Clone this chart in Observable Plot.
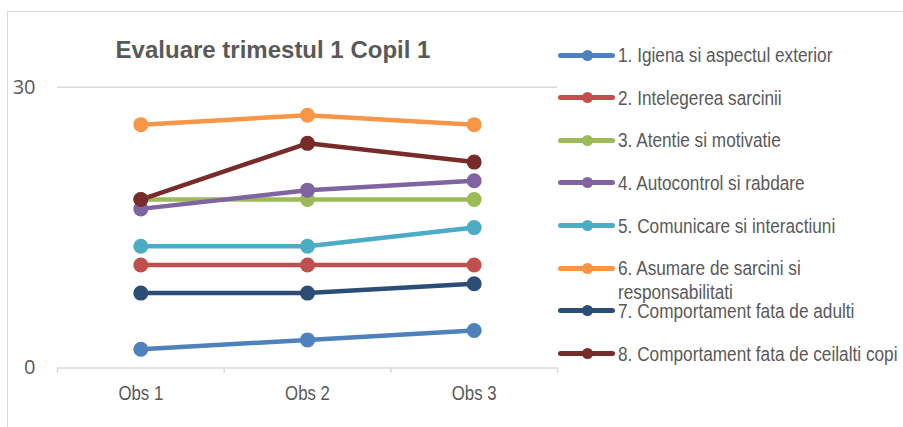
<!DOCTYPE html>
<html><head><meta charset="utf-8">
<script src="https://cdn.jsdelivr.net/npm/d3@7"></script>
<script src="https://cdn.jsdelivr.net/npm/@observablehq/plot@0.6"></script>
<style>
body{margin:0;width:903px;height:427px;overflow:hidden;background:#fff;position:relative;font-family:"Liberation Sans",Arial,sans-serif}
#frame{position:absolute;left:7px;top:11px;width:1000px;height:500px;border:1.5px solid #d9d9d9;box-sizing:border-box}
#title{position:absolute;left:0;width:546px;top:35px;text-align:center;font-weight:bold;font-size:24px;line-height:30px;color:#595959}
#chart{position:absolute;left:0;top:0}
#legend{position:absolute;left:558px;top:0;width:345px;height:427px}
.item{position:absolute;left:0;width:345px}
.sw{position:absolute;left:0;top:9.5px;width:57px;height:5px;border-radius:2.5px}
.sw i{position:absolute;left:24px;top:-3px;width:11px;height:11px;border-radius:50%}
.lab{position:absolute;left:60px;top:0;font-family:"Liberation Sans",Arial,sans-serif;font-size:20.5px;line-height:23.4px;color:#595959;white-space:nowrap;transform:scaleX(0.84);transform-origin:0 0}
</style></head>
<body>
<div id="frame"></div>
<div id="chart"></div>
<div id="title">Evaluare trimestul 1 Copil 1</div>
<div id="legend"></div>
<script>
const observations = ["Obs 1", "Obs 2", "Obs 3"];
const seriesNames = [
  "1. Igiena si aspectul exterior",
  "2. Intelegerea sarcinii",
  "3. Atentie si motivatie",
  "4. Autocontrol si rabdare",
  "5. Comunicare si interactiuni",
  "6. Asumare de sarcini si responsabilitati",
  "7. Comportament fata de adulti",
  "8. Comportament fata de ceilalti copi"
];
const seriesColors = ["#4F81BD", "#C0504D", "#9BBB59", "#8064A2", "#4BACC6", "#F79646", "#2C4D75", "#772C2A"];
const s1 = [2, 3, 4];
const s2 = [11, 11, 11];
const s3 = [18, 18, 18];
const s4 = [17, 19, 20];
const s5 = [13, 13, 15];
const s6 = [26, 27, 26];
const s7 = [8, 8, 9];
const s8 = [18, 24, 22];
const yTicks = [0, 30];

const allSeries = [s1, s2, s3, s4, s5, s6, s7, s8];
const rows = [];
allSeries.forEach((vals, k) => vals.forEach((v, i) => rows.push({series: seriesNames[k], i, obs: observations[i], value: v})));
const boundaries = d3.range(observations.length + 1).map(j => j - 0.5);

const chart = Plot.plot({
  width: 903, height: 427,
  marginLeft: 57, marginRight: 346, marginTop: 86.7, marginBottom: 59.5,
  style: {background: "transparent", overflow: "visible"},
  x: {type: "linear", domain: [-0.5, observations.length - 0.5], label: null},
  y: {domain: [0, 30], label: null},
  color: {domain: seriesNames, range: seriesColors},
  marks: [
    Plot.gridY([30], {stroke: "#d9d9d9", strokeOpacity: 1, strokeWidth: 1.5}),
    Plot.ruleY([0], {stroke: "#d9d9d9", strokeWidth: 1.5}),
    Plot.axisX(boundaries, {tickSize: 5.5, tickFormat: () => "", stroke: "#d9d9d9", strokeWidth: 1.5, label: null}),
    Plot.axisX(d3.range(observations.length), {tickSize: 0, tickPadding: 17, tickFormat: i => observations[i], fontSize: 20.5, fill: "#595959", fontFamily: "Liberation Sans, Arial, sans-serif", label: null}),
    Plot.axisY(yTicks, {tickSize: 0, tickPadding: 22, fontSize: 20, fill: "#595959", fontFamily: "Open Sans, sans-serif", label: null}),
    Plot.line(rows, {x: "i", y: "value", z: "series", stroke: "series", strokeWidth: 4.5, strokeLinecap: "round", strokeLinejoin: "round"}),
    Plot.dot(rows, {x: "i", y: "value", fill: "series", r: 7.5, stroke: "none"})
  ]
});
// condense the category labels (the reference uses a narrow sans face)
chart.querySelectorAll("text").forEach(t => {
  if (observations.includes(t.textContent.trim())) {
    const tr = t.getAttribute("transform") || "";
    t.setAttribute("transform", tr + " scale(0.82,1)");
  }
});
document.getElementById("chart").appendChild(chart);

const legend = document.getElementById("legend");
seriesNames.forEach((name, k) => {
  const item = document.createElement("div");
  item.className = "item";
  item.style.top = (55 + k * 42.65 - 12) + "px";
  const sw = document.createElement("div");
  sw.className = "sw";
  sw.style.background = seriesColors[k];
  const dot = document.createElement("i");
  dot.style.background = seriesColors[k];
  sw.appendChild(dot);
  const lab = document.createElement("div");
  lab.className = "lab";
  if (k === 5) {
    lab.innerHTML = "6. Asumare de sarcini si<br>responsabilitati";
  } else {
    lab.textContent = name;
  }
  item.appendChild(sw);
  item.appendChild(lab);
  legend.appendChild(item);
});
</script>
</body></html>
